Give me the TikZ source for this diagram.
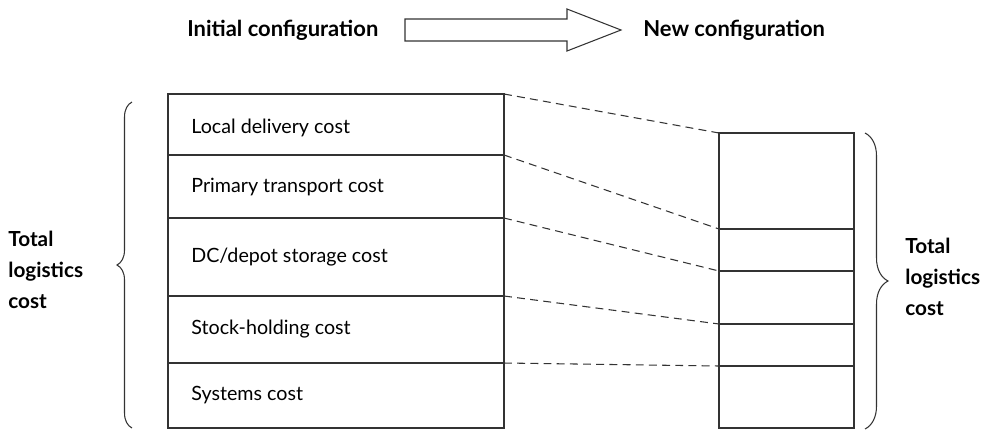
\documentclass[tikz,border=0pt]{standalone}
\usepackage{fontspec}
\setmainfont{Lato}
\usetikzlibrary{positioning, decorations.pathreplacing}

\begin{document}
\begin{tikzpicture}[x=0.02cm,y=-0.02cm,
    box/.style={draw=black!80,line width=0.6pt},
    cell/.style={font=\fontsize{11.2}{13}\selectfont,anchor=base west,inner sep=0pt},
    head/.style={font=\fontsize{12.5}{14}\selectfont\bfseries,anchor=west,inner sep=0pt},
    tot/.style={font=\fontsize{11.8}{17.5}\selectfont\bfseries,align=left,anchor=west,inner sep=0pt},
    link/.style={draw=black!80,line width=0.6pt,dash pattern=on 4.5pt off 3pt},
    brc/.style={draw=black!80,line width=0.6pt,decorate,decoration={brace,amplitude=#1}}]
  \useasboundingbox (0,0) rectangle (989,430);
  % top line
  \node[head](init) at (187,30){Initial configuration};
  \node[head](new) at (643,30){New configuration};
  \draw[box] (405,19)--(567,19)--(567,9)--(621,30)--(567,51)--(567,41)--(405,41)--cycle;
  % initial cost stack
  \coordinate (L0) at (504,94);
  \coordinate (L1) at (504,155);
  \coordinate (L2) at (504,218);
  \coordinate (L3) at (504,296);
  \coordinate (L4) at (504,363);
  \draw[box] (168,94) rectangle (504,428);
  \draw[box] (168,155)--(L1);
  \draw[box] (168,218)--(L2);
  \draw[box] (168,296)--(L3);
  \draw[box] (168,363)--(L4);
  \node[cell](loc) at (191,133){Local delivery cost};
  \node[cell](pri) at (191,192){Primary transport cost};
  \node[cell](dc) at (191,262){DC/depot storage cost};
  \node[cell](stk) at (191,334){Stock-holding cost};
  \node[cell](sys) at (191,400){Systems cost};
  % new cost stack
  \coordinate (R0) at (719,133);
  \coordinate (R1) at (719,229);
  \coordinate (R2) at (719,271);
  \coordinate (R3) at (719,324);
  \coordinate (R4) at (719,366);
  \draw[box] (719,133) rectangle (854,428);
  \draw[box] (R1)--(854,229);
  \draw[box] (R2)--(854,271);
  \draw[box] (R3)--(854,324);
  \draw[box] (R4)--(854,366);
  % links
  \draw[link](L0)--(R0);
  \draw[link](L1)--(R1);
  \draw[link](L2)--(R2);
  \draw[link](L3)--(R3);
  \draw[link](L4)--(R4);
  % braces
  \draw[brc=0.3cm] (132,428)--(132,102);
  \draw[brc=0.46cm] (865,133)--(865,429);
  \node[tot](totl) at (8,270){Total\\logistics\\cost};
  \node[tot](totr) at (905,277){Total\\logistics\\cost};
\end{tikzpicture}
\end{document}
